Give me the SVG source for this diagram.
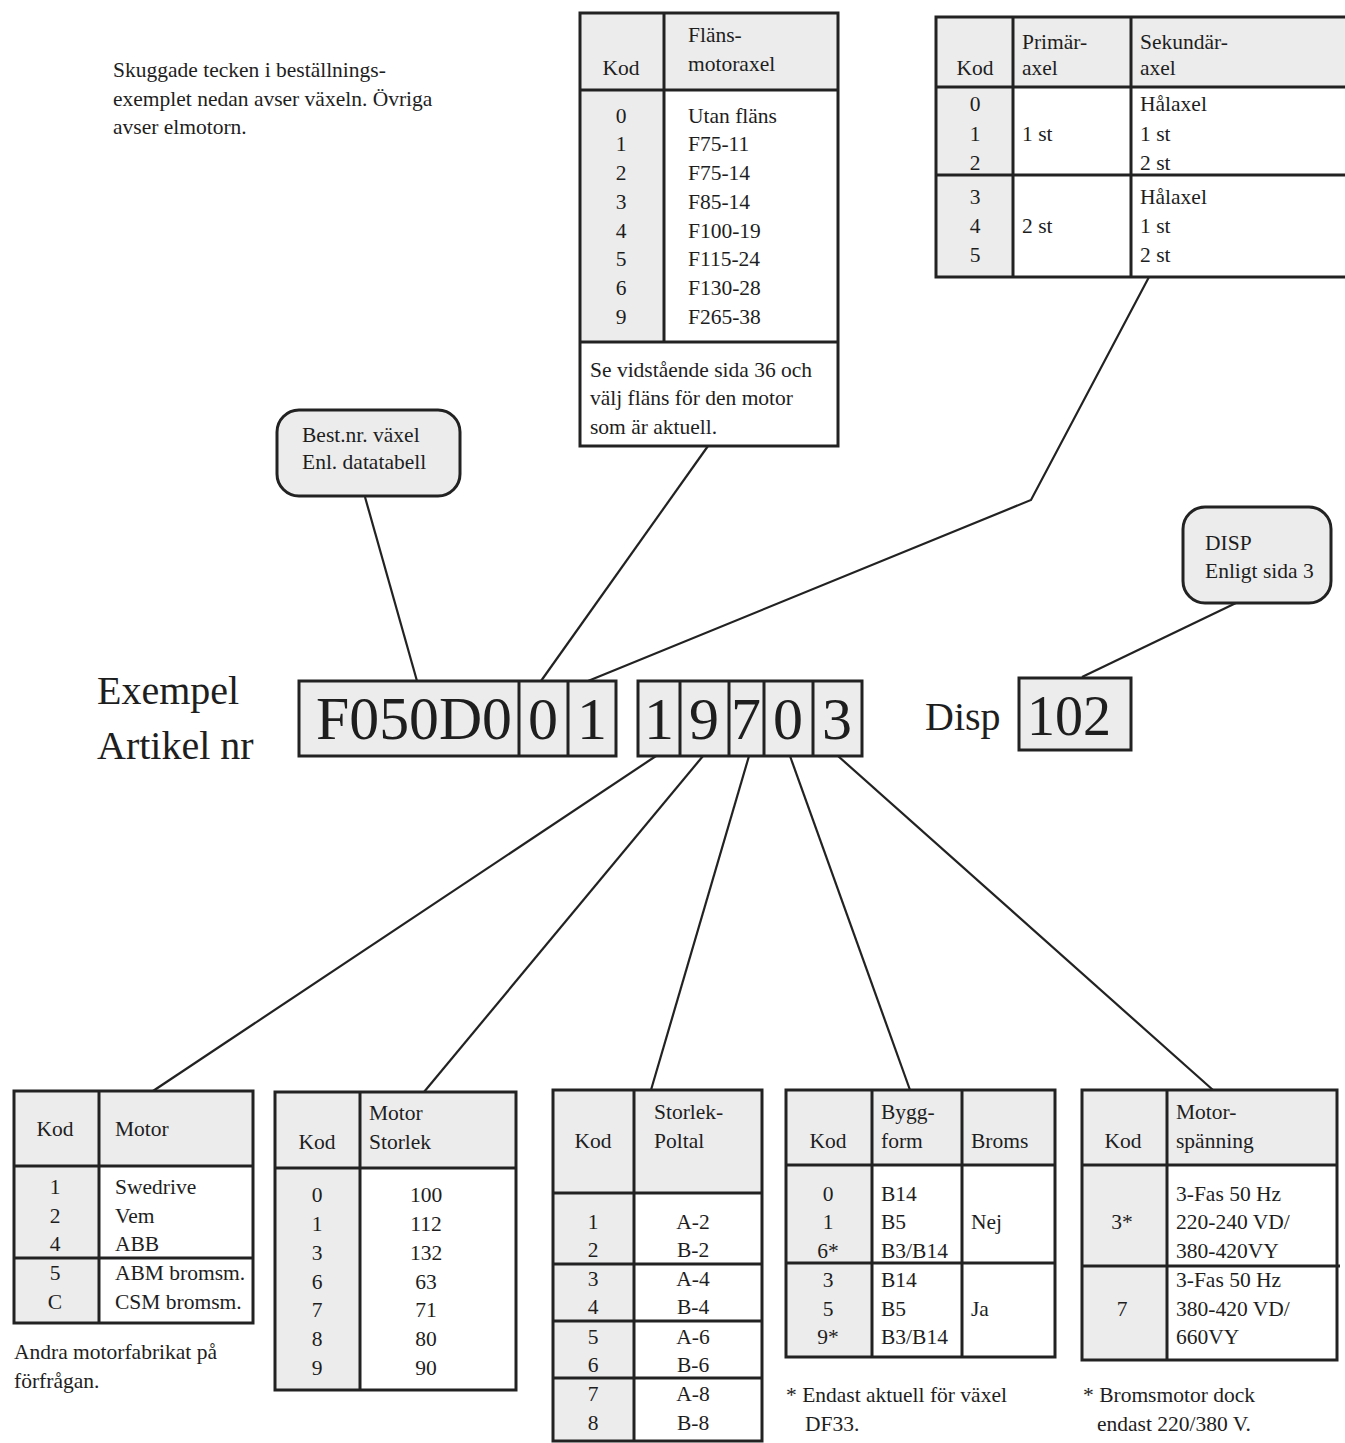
<svg xmlns="http://www.w3.org/2000/svg" width="1345" height="1443" viewBox="0 0 1345 1443">
<style>
.t{font-family:"Liberation Serif","Times New Roman",serif;font-size:21.5px;fill:#1e1e1e}
.m{text-anchor:middle}
.big{font-family:"Liberation Serif","Times New Roman",serif;fill:#1e1e1e}
.b{stroke:#222;stroke-width:3;fill:none}
.sh{fill:#ececec;stroke:none}
.box{fill:#ececec;stroke:#222;stroke-width:3}
.c{stroke:#222;stroke-width:2.2;fill:none}
</style>
<rect width="1345" height="1443" fill="#fff"/>

<g id="intro">
<text class="t" x="113" y="77">Skuggade tecken i beställnings-</text>
<text class="t" x="113" y="106">exemplet nedan avser växeln. Övriga</text>
<text class="t" x="113" y="134">avser elmotorn.</text>
</g>

<g id="connectors">
<line class="c" x1="365" y1="497" x2="417" y2="681"/>
<line class="c" x1="708" y1="446" x2="541" y2="681"/>
<polyline class="c" points="1149,277 1031,500 588,681"/>
<line class="c" x1="1236" y1="603" x2="1082" y2="677"/>
<line class="c" x1="656" y1="756" x2="153" y2="1091"/>
<line class="c" x1="703" y1="756" x2="424" y2="1092"/>
<line class="c" x1="749" y1="756" x2="651" y2="1090"/>
<line class="c" x1="790" y1="756" x2="910" y2="1090"/>
<line class="c" x1="838" y1="756" x2="1213" y2="1090"/>
</g>

<g id="flange-table">
<rect class="sh" x="580" y="13" width="258" height="77"/>
<rect class="sh" x="580" y="90" width="84" height="252"/>
<rect class="b" x="580" y="13" width="258" height="433"/>
<line class="b" x1="664" y1="13" x2="664" y2="342"/>
<line class="b" x1="580" y1="90" x2="838" y2="90"/>
<line class="b" x1="580" y1="342" x2="838" y2="342"/>
<text class="t m" x="621" y="75">Kod</text>
<text class="t" x="688" y="42">Fläns-</text>
<text class="t" x="688" y="71">motoraxel</text>
<text class="t m" x="621" y="123">0</text><text class="t" x="688" y="123">Utan fläns</text>
<text class="t m" x="621" y="151">1</text><text class="t" x="688" y="151">F75-11</text>
<text class="t m" x="621" y="180">2</text><text class="t" x="688" y="180">F75-14</text>
<text class="t m" x="621" y="209">3</text><text class="t" x="688" y="209">F85-14</text>
<text class="t m" x="621" y="238">4</text><text class="t" x="688" y="238">F100-19</text>
<text class="t m" x="621" y="266">5</text><text class="t" x="688" y="266">F115-24</text>
<text class="t m" x="621" y="295">6</text><text class="t" x="688" y="295">F130-28</text>
<text class="t m" x="621" y="324">9</text><text class="t" x="688" y="324">F265-38</text>
<text class="t" x="590" y="377">Se vidstående sida 36 och</text>
<text class="t" x="590" y="405">välj fläns för den motor</text>
<text class="t" x="590" y="434">som är aktuell.</text>
</g>

<g id="axel-table">
<rect class="sh" x="936" y="17" width="420" height="70"/>
<rect class="sh" x="936" y="87" width="77" height="190"/>
<rect class="b" x="936" y="17" width="420" height="260"/>
<line class="b" x1="1013" y1="17" x2="1013" y2="277"/>
<line class="b" x1="1131" y1="17" x2="1131" y2="277"/>
<line class="b" x1="936" y1="87" x2="1356" y2="87"/>
<line class="b" x1="936" y1="175" x2="1356" y2="175"/>
<text class="t m" x="975" y="75">Kod</text>
<text class="t" x="1022" y="49">Primär-</text>
<text class="t" x="1022" y="75">axel</text>
<text class="t" x="1140" y="49">Sekundär-</text>
<text class="t" x="1140" y="75">axel</text>
<text class="t m" x="975" y="111">0</text><text class="t" x="1140" y="111">Hålaxel</text>
<text class="t m" x="975" y="141">1</text><text class="t" x="1022" y="141">1 st</text><text class="t" x="1140" y="141">1 st</text>
<text class="t m" x="975" y="170">2</text><text class="t" x="1140" y="170">2 st</text>
<text class="t m" x="975" y="204">3</text><text class="t" x="1140" y="204">Hålaxel</text>
<text class="t m" x="975" y="233">4</text><text class="t" x="1022" y="233">2 st</text><text class="t" x="1140" y="233">1 st</text>
<text class="t m" x="975" y="262">5</text><text class="t" x="1140" y="262">2 st</text>
</g>

<g id="callout-best">
<rect class="box" x="277" y="410" width="183" height="86" rx="22"/>
<text class="t" x="302" y="442">Best.nr. växel</text>
<text class="t" x="302" y="469">Enl. datatabell</text>
</g>

<g id="callout-disp">
<rect class="box" x="1183" y="507" width="148" height="96" rx="22"/>
<text class="t" x="1205" y="550">DISP</text>
<text class="t" x="1205" y="578">Enligt sida 3</text>
</g>

<g id="label-exempel">
<text class="big" x="97" y="704" font-size="40">Exempel</text>
<text class="big" x="97" y="759" font-size="40">Artikel nr</text>
</g>

<g id="code-left">
<rect class="box" x="299" y="681" width="317" height="75"/>
<line class="b" x1="519" y1="681" x2="519" y2="756"/>
<line class="b" x1="568" y1="681" x2="568" y2="756"/>
<text class="big" x="316" y="739" font-size="62" textLength="196" lengthAdjust="spacingAndGlyphs">F050D0</text>
<text class="big m" x="543" y="739" font-size="60">0</text>
<text class="big m" x="592" y="739" font-size="60">1</text>
</g>

<g id="code-right">
<rect class="box" x="638" y="681" width="224" height="75"/>
<line class="b" x1="680" y1="681" x2="680" y2="756"/>
<line class="b" x1="729" y1="681" x2="729" y2="756"/>
<line class="b" x1="764" y1="681" x2="764" y2="756"/>
<line class="b" x1="813" y1="681" x2="813" y2="756"/>
<text class="big m" x="659" y="739" font-size="60">1</text>
<text class="big m" x="704" y="739" font-size="60">9</text>
<text class="big m" x="746" y="739" font-size="60">7</text>
<text class="big m" x="788" y="739" font-size="60">0</text>
<text class="big m" x="837" y="739" font-size="60">3</text>
</g>

<g id="disp">
<text class="big" x="925" y="730" font-size="40">Disp</text>
<rect class="box" x="1019" y="678" width="112" height="72"/>
<text class="big m" x="1069" y="735" font-size="56">102</text>
</g>

<g id="motor-table">
<rect class="sh" x="14" y="1091" width="239" height="75"/>
<rect class="sh" x="14" y="1166" width="85" height="157"/>
<rect class="b" x="14" y="1091" width="239" height="232"/>
<line class="b" x1="99" y1="1091" x2="99" y2="1323"/>
<line class="b" x1="14" y1="1166" x2="253" y2="1166"/>
<line class="b" x1="14" y1="1258" x2="253" y2="1258"/>
<text class="t m" x="55" y="1136">Kod</text>
<text class="t" x="115" y="1136">Motor</text>
<text class="t m" x="55" y="1194">1</text><text class="t" x="115" y="1194">Swedrive</text>
<text class="t m" x="55" y="1223">2</text><text class="t" x="115" y="1223">Vem</text>
<text class="t m" x="55" y="1251">4</text><text class="t" x="115" y="1251">ABB</text>
<text class="t m" x="55" y="1280">5</text><text class="t" x="115" y="1280">ABM bromsm.</text>
<text class="t m" x="55" y="1309">C</text><text class="t" x="115" y="1309">CSM bromsm.</text>
<text class="t" x="14" y="1359">Andra motorfabrikat på</text>
<text class="t" x="14" y="1388">förfrågan.</text>
</g>

<g id="storlek-table">
<rect class="sh" x="275" y="1092" width="241" height="76"/>
<rect class="sh" x="275" y="1168" width="85" height="222"/>
<rect class="b" x="275" y="1092" width="241" height="298"/>
<line class="b" x1="360" y1="1092" x2="360" y2="1390"/>
<line class="b" x1="275" y1="1168" x2="516" y2="1168"/>
<text class="t m" x="317" y="1149">Kod</text>
<text class="t" x="369" y="1120">Motor</text>
<text class="t" x="369" y="1149">Storlek</text>
<text class="t m" x="317" y="1202">0</text><text class="t m" x="426" y="1202">100</text>
<text class="t m" x="317" y="1231">1</text><text class="t m" x="426" y="1231">112</text>
<text class="t m" x="317" y="1260">3</text><text class="t m" x="426" y="1260">132</text>
<text class="t m" x="317" y="1289">6</text><text class="t m" x="426" y="1289">63</text>
<text class="t m" x="317" y="1317">7</text><text class="t m" x="426" y="1317">71</text>
<text class="t m" x="317" y="1346">8</text><text class="t m" x="426" y="1346">80</text>
<text class="t m" x="317" y="1375">9</text><text class="t m" x="426" y="1375">90</text>
</g>

<g id="poltal-table">
<rect class="sh" x="553" y="1090" width="209" height="103"/>
<rect class="sh" x="553" y="1193" width="81" height="248"/>
<rect class="b" x="553" y="1090" width="209" height="351"/>
<line class="b" x1="634" y1="1090" x2="634" y2="1441"/>
<line class="b" x1="553" y1="1193" x2="762" y2="1193"/>
<line class="b" x1="553" y1="1264" x2="762" y2="1264"/>
<line class="b" x1="553" y1="1321" x2="762" y2="1321"/>
<line class="b" x1="553" y1="1378" x2="762" y2="1378"/>
<text class="t m" x="593" y="1148">Kod</text>
<text class="t" x="654" y="1119">Storlek-</text>
<text class="t" x="654" y="1148">Poltal</text>
<text class="t m" x="593" y="1229">1</text><text class="t m" x="693" y="1229">A-2</text>
<text class="t m" x="593" y="1257">2</text><text class="t m" x="693" y="1257">B-2</text>
<text class="t m" x="593" y="1286">3</text><text class="t m" x="693" y="1286">A-4</text>
<text class="t m" x="593" y="1314">4</text><text class="t m" x="693" y="1314">B-4</text>
<text class="t m" x="593" y="1344">5</text><text class="t m" x="693" y="1344">A-6</text>
<text class="t m" x="593" y="1372">6</text><text class="t m" x="693" y="1372">B-6</text>
<text class="t m" x="593" y="1401">7</text><text class="t m" x="693" y="1401">A-8</text>
<text class="t m" x="593" y="1430">8</text><text class="t m" x="693" y="1430">B-8</text>
</g>

<g id="byggform-table">
<rect class="sh" x="786" y="1090" width="269" height="75"/>
<rect class="sh" x="786" y="1165" width="86" height="192"/>
<rect class="b" x="786" y="1090" width="269" height="267"/>
<line class="b" x1="872" y1="1090" x2="872" y2="1357"/>
<line class="b" x1="962" y1="1090" x2="962" y2="1357"/>
<line class="b" x1="786" y1="1165" x2="1055" y2="1165"/>
<line class="b" x1="786" y1="1263" x2="1055" y2="1263"/>
<text class="t m" x="828" y="1148">Kod</text>
<text class="t" x="881" y="1119">Bygg-</text>
<text class="t" x="881" y="1148">form</text>
<text class="t" x="971" y="1148">Broms</text>
<text class="t m" x="828" y="1201">0</text><text class="t" x="881" y="1201">B14</text>
<text class="t m" x="828" y="1229">1</text><text class="t" x="881" y="1229">B5</text><text class="t" x="971" y="1229">Nej</text>
<text class="t m" x="828" y="1258">6*</text><text class="t" x="881" y="1258">B3/B14</text>
<text class="t m" x="828" y="1287">3</text><text class="t" x="881" y="1287">B14</text>
<text class="t m" x="828" y="1316">5</text><text class="t" x="881" y="1316">B5</text><text class="t" x="971" y="1316">Ja</text>
<text class="t m" x="828" y="1344">9*</text><text class="t" x="881" y="1344">B3/B14</text>
<text class="t" x="786" y="1402">* Endast aktuell för växel</text>
<text class="t" x="805" y="1431">DF33.</text>
</g>

<g id="spanning-table">
<rect class="sh" x="1082" y="1090" width="255" height="75"/>
<rect class="sh" x="1082" y="1165" width="85" height="195"/>
<rect class="b" x="1082" y="1090" width="255" height="270"/>
<line class="b" x1="1167" y1="1090" x2="1167" y2="1360"/>
<line class="b" x1="1082" y1="1165" x2="1337" y2="1165"/>
<line class="b" x1="1082" y1="1266" x2="1340" y2="1266"/>
<text class="t m" x="1123" y="1148">Kod</text>
<text class="t" x="1176" y="1119">Motor-</text>
<text class="t" x="1176" y="1148">spänning</text>
<text class="t" x="1176" y="1201">3-Fas 50 Hz</text>
<text class="t m" x="1122" y="1229">3*</text><text class="t" x="1176" y="1229">220-240 VD/</text>
<text class="t" x="1176" y="1258">380-420VY</text>
<text class="t" x="1176" y="1287">3-Fas 50 Hz</text>
<text class="t m" x="1122" y="1316">7</text><text class="t" x="1176" y="1316">380-420 VD/</text>
<text class="t" x="1176" y="1344">660VY</text>
<text class="t" x="1083" y="1402">* Bromsmotor dock</text>
<text class="t" x="1097" y="1431">endast 220/380 V.</text>
</g>
</svg>
